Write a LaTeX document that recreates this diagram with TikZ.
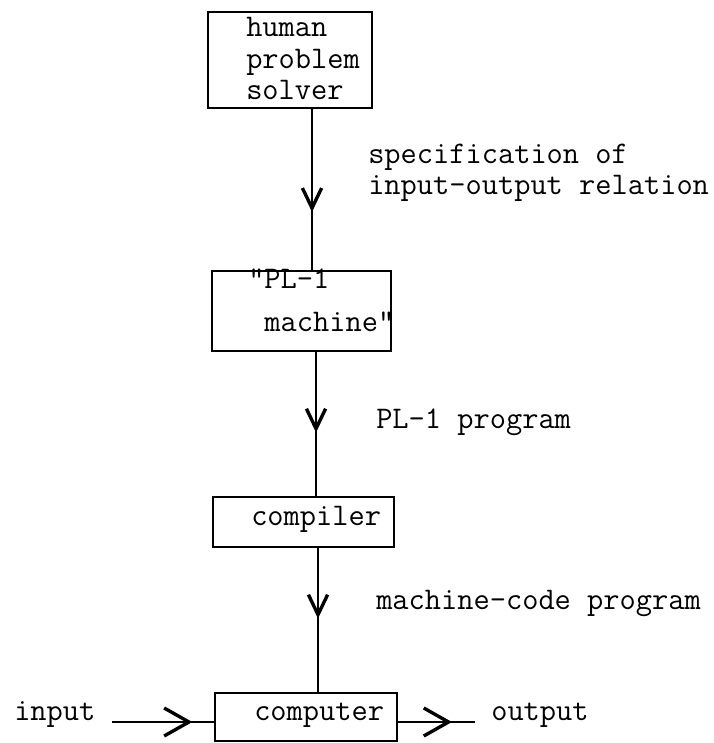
\documentclass[tikz,border=0pt]{standalone}
\usepackage{tikz}
\usetikzlibrary{arrows.meta,decorations.markings}

\begin{document}
\begin{tikzpicture}[x=0.0125cm,y=-0.0125cm,line width=0.9pt,
  vtip/.tip={Straight Barb[length=0.25cm,width=0.24cm,line width=1.2pt]},
  htip/.tip={Straight Barb[length=0.31cm,width=0.35cm,line width=1.2pt]},
  box/.style 2 args={draw,minimum width=#1*0.0125cm,minimum height=#2*0.0125cm,inner sep=0pt},
  txt/.style={anchor=base west,inner sep=0pt,align=left,font=\ttfamily\fontsize{11.2pt}{11.3pt}\selectfont},
  flow/.style 2 args={postaction={decorate},decoration={markings,mark=at position #1 with {\arrow{#2}}}}]
\useasboundingbox (0,0) rectangle (713,743);
\node[box={164}{96}] (solver) at (290,60) {};
\node[box={179}{80}] (plm) at (301.5,311) {};
\node[box={181}{50}] (comp) at (303.5,522) {};
\node[box={182}{48}] (cmpt) at (306,717) {};
\node[txt] (solvertext) at (245,100) {human\\problem\\solver};
\node[txt] (plmtext) at (247,332) {"PL-1\\[4pt]\phantom{"}machine"};
\node[txt] (comptext) at (250,525) {compiler};
\node[txt] (cmpttext) at (253,720) {computer};
\node[txt] (spectext) at (367,195) {specification of\\input-output relation};
\node[txt] (pltext) at (375,428) {PL-1 program};
\node[txt] (mctext) at (375,609) {machine-code program};
\node[txt] (intext) at (13,720) {input};
\node[txt] (outtext) at (490,720) {output};
\coordinate (inend) at (112,722);
\coordinate (outend) at (475,722);
\draw[flow={0.64}{vtip}] (solver.south -| 312,0) -- (plm.north -| 312,0);
\draw[flow={0.56}{vtip}] (plm.south -| 316,0) -- (comp.north -| 316,0);
\draw[flow={0.49}{vtip}] (comp.south -| 318,0) -- (cmpt.north -| 318,0);
\draw[flow={0.79}{htip}] (inend) -- (cmpt.west |- inend);
\draw[flow={0.70}{htip}] (cmpt.east |- outend) -- (outend);
\end{tikzpicture}
\end{document}
